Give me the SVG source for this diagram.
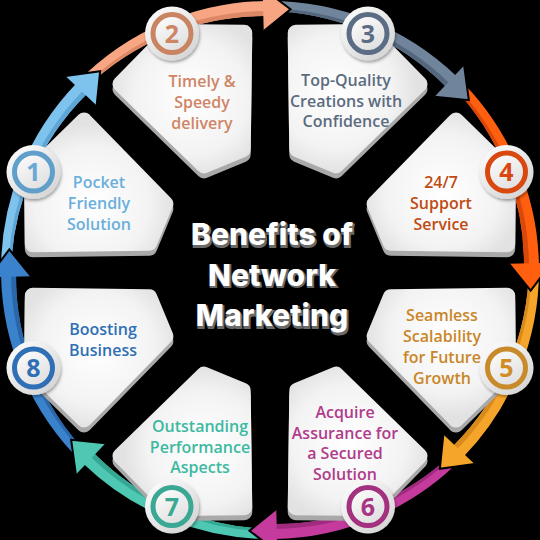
<svg xmlns="http://www.w3.org/2000/svg" width="540" height="540" viewBox="0 0 540 540">
<style>
.card{fill:url(#cg);stroke:url(#cg);stroke-width:16;stroke-linejoin:round}
.csh{fill:#a9a9a9;stroke:#a9a9a9;stroke-width:16;stroke-linejoin:round}
.cw{fill:url(#wg);filter:url(#ds)}
.ring{fill:url(#ig);stroke-width:5}
.num{font-family:"Open Sans","DejaVu Sans",sans-serif;font-weight:700;font-size:25px;text-anchor:middle}
.lbl{font-family:"Open Sans","Liberation Sans",sans-serif;font-weight:600;font-size:16px;text-anchor:middle}
.ttl{font-family:Inter,"Liberation Sans",sans-serif;font-weight:800;font-size:30px;text-anchor:middle}
</style>
<defs>
<radialGradient id="cg" cx="0.5" cy="0.45" r="0.6">
<stop offset="0" stop-color="#ffffff"/><stop offset="0.7" stop-color="#f3f3f3"/><stop offset="1" stop-color="#e2e2e2"/>
</radialGradient>
<linearGradient id="wg" x1="0" y1="0" x2="0.8" y2="1">
<stop offset="0" stop-color="#ffffff"/><stop offset="1" stop-color="#d4d4d4"/>
</linearGradient>
<linearGradient id="ig" x1="0" y1="0" x2="0.6" y2="1">
<stop offset="0" stop-color="#ffffff"/><stop offset="1" stop-color="#e0e0e0"/>
</linearGradient>
<filter id="ds" x="-30%" y="-30%" width="160%" height="160%">
<feDropShadow dx="1" dy="2" stdDeviation="1.8" flood-color="#000" flood-opacity="0.35"/>
</filter>
<path id="ab" d="M442.91 63.93 A269 269 0 0 1 537.76 244.22 L522.83 245.65 A256 256 0 0 0 436.48 71.60 Z"/>
<path id="as" d="M436.48 71.60 A256 256 0 0 1 522.83 245.65 L527.81 245.17 A260 260 0 0 0 438.09 69.68 Z"/>
<path id="ah" d="M550.45 240.52 L531.5 270 L507.69 245.02 Z"/>
<polyline id="ae" points="550.45,240.52 531.5,270 507.69,245.02" fill="none" stroke="#000" stroke-width="2" stroke-linejoin="miter"/>
<path id="card" d="M527.5 270 L499 337 L392 291 L392 249 L499 203 Z"/>
</defs>
<rect width="540" height="540" fill="#000"/>

<g id="connectors">
<use href="#ab" fill="#7ec3ee" transform="rotate(229.5 270 270)"/>
<use href="#as" fill="#5ea6d6" transform="rotate(229.5 270 270)"/>
<use href="#ab" fill="#f7a583" transform="rotate(274.5 270 270)"/>
<use href="#as" fill="#dc8864" transform="rotate(274.5 270 270)"/>
<use href="#ab" fill="#70849b" transform="rotate(319.5 270 270)"/>
<use href="#as" fill="#55677c" transform="rotate(319.5 270 270)"/>
<use href="#ab" fill="#ff5f0f" transform="rotate(4.5 270 270)"/>
<use href="#as" fill="#d9480a" transform="rotate(4.5 270 270)"/>
<use href="#ab" fill="#f6a52b" transform="rotate(49.5 270 270)"/>
<use href="#as" fill="#d98a1c" transform="rotate(49.5 270 270)"/>
<use href="#ab" fill="#c53b9d" transform="rotate(94.5 270 270)"/>
<use href="#as" fill="#9f2b7e" transform="rotate(94.5 270 270)"/>
<use href="#ab" fill="#4ec8b3" transform="rotate(139.5 270 270)"/>
<use href="#as" fill="#34a893" transform="rotate(139.5 270 270)"/>
<use href="#ab" fill="#3b82cc" transform="rotate(184.5 270 270)"/>
<use href="#as" fill="#2a67aa" transform="rotate(184.5 270 270)"/>

<use href="#ah" fill="#7ec3ee" transform="rotate(229.5 270 270)"/>
<use href="#ae" transform="rotate(229.5 270 270)"/>
<use href="#ah" fill="#f7a583" transform="rotate(274.5 270 270)"/>
<use href="#ae" transform="rotate(274.5 270 270)"/>
<use href="#ah" fill="#70849b" transform="rotate(319.5 270 270)"/>
<use href="#ae" transform="rotate(319.5 270 270)"/>
<use href="#ah" fill="#ff5f0f" transform="rotate(4.5 270 270)"/>
<use href="#ae" transform="rotate(4.5 270 270)"/>
<use href="#ah" fill="#f6a52b" transform="rotate(49.5 270 270)"/>
<use href="#ae" transform="rotate(49.5 270 270)"/>
<use href="#ah" fill="#c53b9d" transform="rotate(94.5 270 270)"/>
<use href="#ae" transform="rotate(94.5 270 270)"/>
<use href="#ah" fill="#4ec8b3" transform="rotate(139.5 270 270)"/>
<use href="#ae" transform="rotate(139.5 270 270)"/>
<use href="#ah" fill="#3b82cc" transform="rotate(184.5 270 270)"/>
<use href="#ae" transform="rotate(184.5 270 270)"/>
</g>

<g id="node1">
<use href="#card" class="csh" transform="translate(0,5) rotate(202.5 270 270)"/>
<use href="#card" class="card" transform="rotate(202.5 270 270)"/>
<circle cx="33.5" cy="172" r="27" class="cw"/>
<circle cx="33.5" cy="172" r="19" class="ring" stroke="#5f9fca"/>
<text x="33.5" y="181" class="num" fill="#6aa9d6">1</text>
<text class="lbl" fill="#6aafdc"><tspan x="99" y="188">Pocket</tspan><tspan x="99" y="209">Friendly</tspan><tspan x="99" y="230">Solution</tspan></text>
</g>

<g id="node2">
<use href="#card" class="csh" transform="translate(0,5) rotate(247.5 270 270)"/>
<use href="#card" class="card" transform="rotate(247.5 270 270)"/>
<circle cx="172" cy="33.5" r="27" class="cw"/>
<circle cx="172" cy="33.5" r="19" class="ring" stroke="#c98462"/>
<text x="172" y="42.5" class="num" fill="#cd8665">2</text>
<text class="lbl" fill="#cf8565"><tspan x="202" y="87">Timely &amp;</tspan><tspan x="202" y="108">Speedy</tspan><tspan x="202" y="129">delivery</tspan></text>
</g>

<g id="node3">
<use href="#card" class="csh" transform="translate(0,5) rotate(292.5 270 270)"/>
<use href="#card" class="card" transform="rotate(292.5 270 270)"/>
<circle cx="368" cy="33.5" r="27" class="cw"/>
<circle cx="368" cy="33.5" r="19" class="ring" stroke="#5b6d84"/>
<text x="368" y="42.5" class="num" fill="#5b6d84">3</text>
<text class="lbl" fill="#5b6c80"><tspan x="346" y="86">Top-Quality</tspan><tspan x="346" y="106.5">Creations with</tspan><tspan x="346" y="127">Confidence</tspan></text>
</g>

<g id="node4">
<use href="#card" class="csh" transform="translate(0,5) rotate(337.5 270 270)"/>
<use href="#card" class="card" transform="rotate(337.5 270 270)"/>
<circle cx="506.5" cy="172" r="27" class="cw"/>
<circle cx="506.5" cy="172" r="19" class="ring" stroke="#d9480f"/>
<text x="506.5" y="181" class="num" fill="#d9480f">4</text>
<text class="lbl" fill="#c04b12"><tspan x="441" y="188">24/7</tspan><tspan x="441" y="209">Support</tspan><tspan x="441" y="230">Service</tspan></text>
</g>

<g id="node5">
<use href="#card" class="csh" transform="translate(0,5) rotate(22.5 270 270)"/>
<use href="#card" class="card" transform="rotate(22.5 270 270)"/>
<circle cx="506.5" cy="368" r="27" class="cw"/>
<circle cx="506.5" cy="368" r="19" class="ring" stroke="#c98a2a"/>
<text x="506.5" y="377" class="num" fill="#d08e25">5</text>
<text class="lbl" fill="#c98628"><tspan x="442" y="321">Seamless</tspan><tspan x="442" y="342">Scalability</tspan><tspan x="442" y="363">for Future</tspan><tspan x="442" y="384">Growth</tspan></text>
</g>

<g id="node6">
<use href="#card" class="csh" transform="translate(0,5) rotate(67.5 270 270)"/>
<use href="#card" class="card" transform="rotate(67.5 270 270)"/>
<circle cx="368" cy="506.5" r="27" class="cw"/>
<circle cx="368" cy="506.5" r="19" class="ring" stroke="#a3317f"/>
<text x="368" y="515.5" class="num" fill="#a83584">6</text>
<text class="lbl" fill="#b03b8b"><tspan x="345" y="418">Acquire</tspan><tspan x="345" y="438.5">Assurance for</tspan><tspan x="345" y="459">a Secured</tspan><tspan x="345" y="479.5">Solution</tspan></text>
</g>

<g id="node7">
<use href="#card" class="csh" transform="translate(0,5) rotate(112.5 270 270)"/>
<use href="#card" class="card" transform="rotate(112.5 270 270)"/>
<circle cx="172" cy="506.5" r="27" class="cw"/>
<circle cx="172" cy="506.5" r="19" class="ring" stroke="#3aa893"/>
<text x="172" y="515.5" class="num" fill="#3aa893">7</text>
<text class="lbl" fill="#3db9a2"><tspan x="200" y="432">Outstanding</tspan><tspan x="200" y="452.5">Performance</tspan><tspan x="200" y="473">Aspects</tspan></text>
</g>

<g id="node8">
<use href="#card" class="csh" transform="translate(0,5) rotate(157.5 270 270)"/>
<use href="#card" class="card" transform="rotate(157.5 270 270)"/>
<circle cx="33.5" cy="368" r="27" class="cw"/>
<circle cx="33.5" cy="368" r="19" class="ring" stroke="#2f6fb6"/>
<text x="33.5" y="377" class="num" fill="#2f6fb6">8</text>
<text class="lbl" fill="#2f6fb6"><tspan x="103" y="335">Boosting</tspan><tspan x="103" y="356">Business</tspan></text>
</g>

<g id="title">
<text class="ttl" fill="#6a6a6a" stroke="#6a6a6a" stroke-width="2" transform="translate(1,1.5)"><tspan x="272" y="245">Benefits of</tspan><tspan x="272" y="285.5">Network</tspan><tspan x="272" y="326">Marketing</tspan></text>
<text class="ttl" fill="#ffffff"><tspan x="272" y="245">Benefits of</tspan><tspan x="272" y="285.5">Network</tspan><tspan x="272" y="326">Marketing</tspan></text>
</g>
</svg>
